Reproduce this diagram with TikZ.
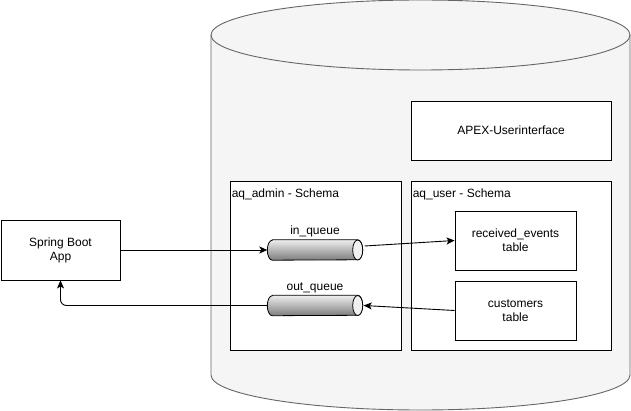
\documentclass[tikz,border=0pt]{standalone}
\usepackage{fontspec}
\setmainfont{Liberation Sans}
\usepackage{tikz}
\usetikzlibrary{arrows.meta, positioning, calc}
\definecolor{dbfill}{RGB}{245, 245, 245}
\definecolor{dbline}{RGB}{102, 102, 102}
\definecolor{queuetop}{RGB}{238, 238, 238}
\definecolor{queuebottom}{RGB}{125, 125, 125}
\definecolor{queueend}{RGB}{240, 240, 240}
\tikzstyle{box} = [rectangle, draw=black, fill=white, line width=0.9pt, text centered, align=center, inner sep=2pt]
\tikzstyle{queue} = [rectangle, minimum width=95pt, minimum height=20pt, inner sep=0pt]
\tikzstyle{schemalabel} = [anchor=base west, inner sep=0pt]
\tikzstyle{queuelabel} = [anchor=base, inner sep=0pt]
\tikzstyle{arrow} = [line width=0.9pt, -{Stealth[length=8pt, width=7pt, inset=2pt]}]
% queue body with gradient and light right end
\newcommand{\queuebody}[1]{
    \shade[top color=queuetop, bottom color=queuebottom, draw=black, line width=0.8pt]
        ([xshift=5pt]#1.north west) -- ([xshift=-5pt]#1.north east)
        arc[start angle=90, end angle=-90, x radius=5pt, y radius=10pt]
        -- ([xshift=5pt]#1.south west)
        arc[start angle=270, end angle=90, x radius=5pt, y radius=10pt] -- cycle;
    \filldraw[fill=queueend, draw=black, line width=0.8pt] ([xshift=-5pt]#1.east) ellipse[x radius=5pt, y radius=10pt];
}

\begin{document}
\begin{tikzpicture}[x=1pt, y=1pt, font=\fontsize{12}{14}\selectfont]
    \useasboundingbox (0,0) rectangle (631,-411);

    % Database cylinder
    \filldraw[fill=dbfill, draw=dbline, line width=0.9pt] (211,-35) -- (211,-375)
        arc[start angle=180, end angle=360, x radius=209.5, y radius=35] -- (630,-35)
        arc[start angle=0, end angle=180, x radius=209.5, y radius=35] -- cycle;
    \draw[draw=dbline, line width=0.9pt] (211,-35) arc[start angle=180, end angle=360, x radius=209.5, y radius=35];

    % Outside
    \node[box, minimum width=119pt, minimum height=60pt] (spring) at (60.5,-250) {Spring Boot\\App};

    % Schemas
    \node[box, minimum width=200pt, minimum height=59pt] (apex) at (511,-130.5) {APEX-Userinterface};
    \node[box, minimum width=171pt, minimum height=169pt] (admin) at (315.5,-265.5) {};
    \node[box, minimum width=200pt, minimum height=169pt] (user) at (511,-265.5) {};
    \node[schemalabel] (adminlabel) at ([shift={(2,-17)}]admin.north west) {aq\_admin - Schema};
    \node[schemalabel] (userlabel) at ([shift={(2,-17)}]user.north west) {aq\_user - Schema};

    % Tables
    \node[box, minimum width=121pt, minimum height=59pt] (recv) at (515.5,-240.5) {received\_events\\table};
    \node[box, minimum width=121pt, minimum height=59pt] (cust) at (515.5,-310.5) {customers\\table};

    % Queues
    \node[queue] (inq) at (315,-250) {};
    \node[queue] (outq) at (315,-305.5) {};
    \queuebody{inq}
    \queuebody{outq}
    \node[queuelabel] (inqlabel) at ([yshift=5pt]inq.north) {in\_queue};
    \node[queuelabel] (outqlabel) at ([yshift=5pt]outq.north) {out\_queue};

    % Arrows
    \draw[arrow] (spring.east) -- (inq.west);
    \draw[arrow] ([shift={(2,4)}]inq.east) -- (recv.west);
    \draw[arrow] (cust.west) -- ([xshift=1pt]outq.east);
    \draw[arrow, rounded corners=6pt] (outq.west) -| (spring.south);
\end{tikzpicture}
\end{document}
